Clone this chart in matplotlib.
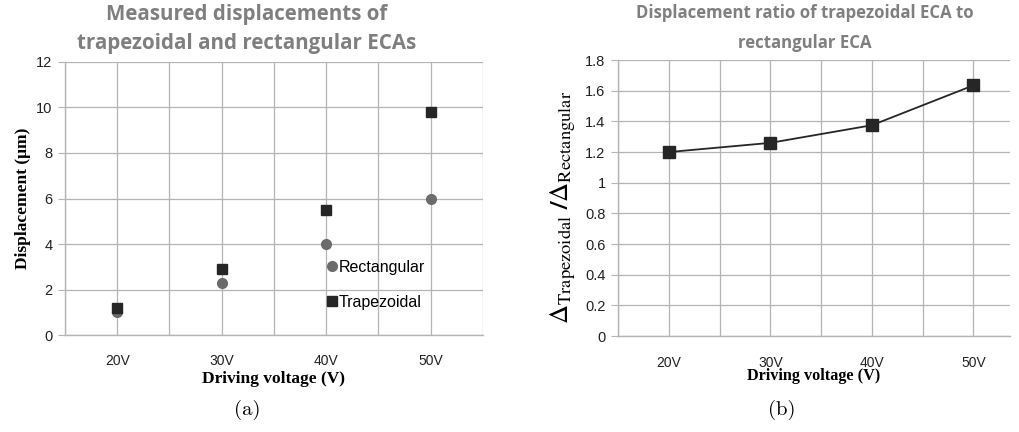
import matplotlib
matplotlib.use("Agg")
import matplotlib.pyplot as plt

# values
voltages = [20, 30, 40, 50]
volt_labels = ["20V", "30V", "40V", "50V"]
rectangular = [1.0, 2.3, 4.0, 6.0]
trapezoidal = [1.2, 2.9, 5.5, 9.8]
ratio = [1.20, 1.26, 1.375, 1.635]

GRID = "#b4b4b4"
TITLE_GRAY = "#7f7f7f"
SANS = "Liberation Sans"
SERIF = "Liberation Serif"

plt.rcParams["mathtext.fontset"] = "stix"


def style_axes(ax, ymax, ystep, xmax):
    ax.set_xlim(15, xmax)
    ax.set_ylim(0, ymax)
    grid_x = list(range(15, int(xmax) + 1, 5))
    ax.set_xticks(grid_x)
    ax.set_xticklabels([volt_labels[voltages.index(v)] if v in voltages else "" for v in grid_x],
                       fontfamily=SANS, fontsize=10)
    n = int(round(ymax / ystep))
    yt = [round(i * ystep, 1) for i in range(n + 1)]
    ax.set_yticks(yt)
    ax.set_yticklabels([("%g" % v) for v in yt], fontfamily=SANS, fontsize=10.5)
    ax.tick_params(axis="x", length=0, pad=14, colors="#222222")
    ax.tick_params(axis="y", length=5, width=0.8, pad=4, colors="#222222")
    ax.tick_params(axis="y", color=GRID)
    ax.grid(True, color=GRID, linewidth=0.9)
    ax.set_axisbelow(True)
    for s in ["top", "right"]:
        ax.spines[s].set_visible(False)
    for s in ["left", "bottom"]:
        ax.spines[s].set_color(GRID)
        ax.spines[s].set_linewidth(1.0)


fig = plt.figure(figsize=(10.19, 4.32), dpi=100)

# (a) measured displacements
ax1 = fig.add_axes([0.0638, 0.2245, 0.410, 0.632])
style_axes(ax1, 12, 2, 55)
ax1.plot(voltages, rectangular, "o", color="#6b6b6b", markersize=7, label="Rectangular", clip_on=False)
ax1.plot(voltages, trapezoidal, "s", color="#262626", markersize=7, label="Trapezoidal", clip_on=False)
ax1.legend(loc="upper left", bbox_to_anchor=(0.627, 0.275), frameon=False, borderpad=0,
           borderaxespad=0, handlelength=0.6, handletextpad=0.12, labelspacing=1.25,
           prop={"family": SANS, "size": 11.5})
ax1.set_ylabel("Displacement (μm)", fontfamily=SERIF, fontweight="bold", fontsize=12.5, labelpad=4)
ax1.set_xlabel("Driving voltage (V)", fontfamily=SERIF, fontweight="bold", fontsize=12.5, labelpad=2)
fig.text(0.2425, 0.99, "Measured displacements of\ntrapezoidal and rectangular ECAs",
         ha="center", va="top", fontfamily="Open Sans", fontweight="bold", fontsize=14.8,
         color=TITLE_GRAY, linespacing=1.45)
fig.text(0.2425, 0.05, "(a)", ha="center", va="center", fontfamily="cmr10", fontsize=15)

# (b) displacement ratio
ax2 = fig.add_axes([0.6065, 0.222, 0.3847, 0.639])
style_axes(ax2, 1.8, 0.2, 53.6)
ax2.plot(voltages, ratio, "-s", color="#262626", linewidth=1.3, markersize=8, clip_on=False)
ax2.set_xlabel("Driving voltage (V)", fontfamily=SERIF, fontweight="bold", fontsize=11.7, labelpad=-1)
fig.text(0.553, 0.521, r"$\Delta_{\mathrm{Trapezoidal}}\ \mathbf{/}\Delta_{\mathrm{Rectangular}}$",
         rotation=90, ha="center", va="center", fontsize=19)
fig.text(0.79, 0.99, "Displacement ratio of trapezoidal ECA to\nrectangular ECA",
         ha="center", va="top", fontfamily="Open Sans", fontweight="bold", fontsize=12.1,
         color=TITLE_GRAY, linespacing=1.8)
fig.text(0.767, 0.05, "(b)", ha="center", va="center", fontfamily="cmr10", fontsize=15)

fig.savefig("out.png", dpi=100)
